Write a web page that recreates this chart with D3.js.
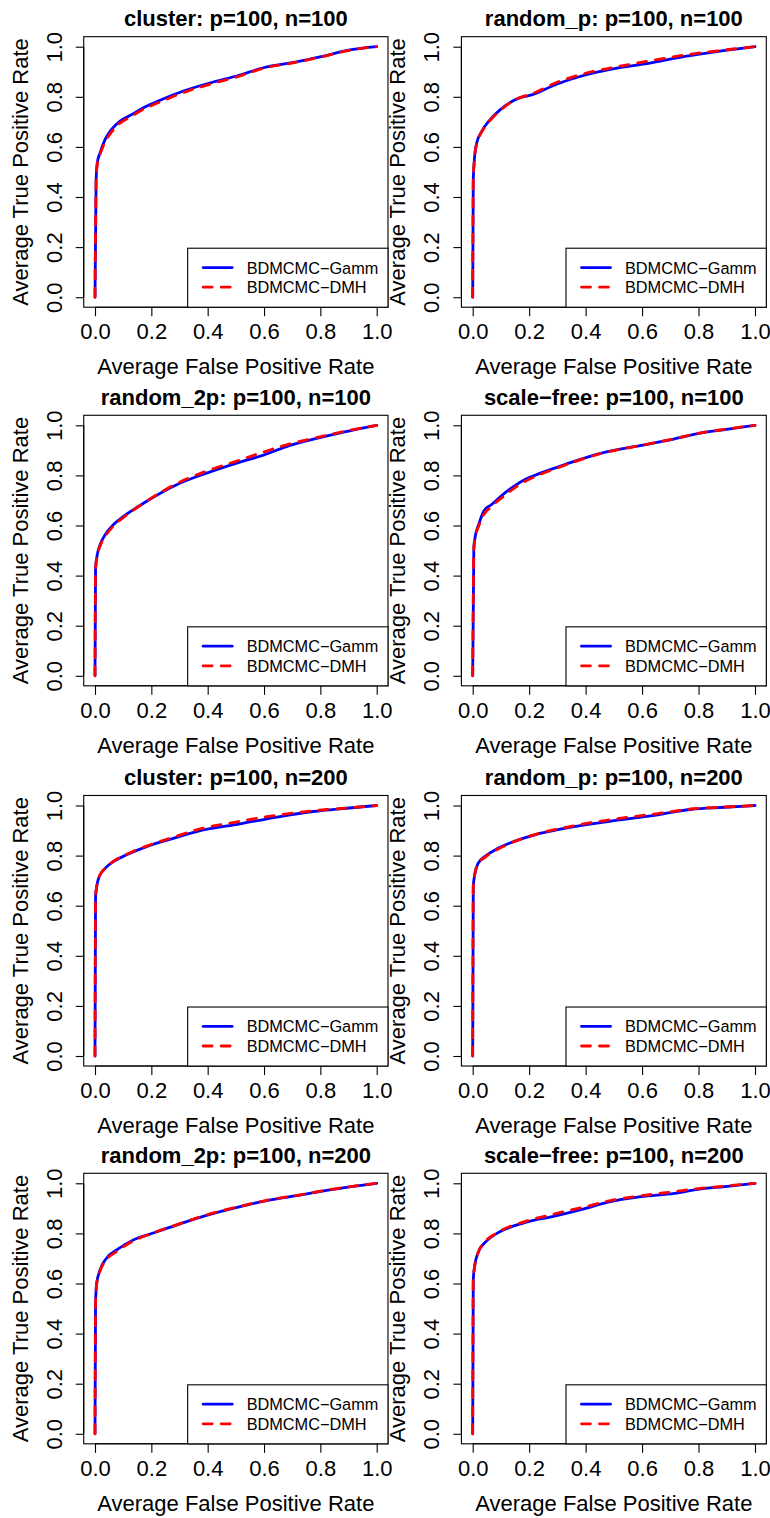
<!DOCTYPE html>
<html>
<head>
<meta charset="utf-8">
<script src="https://cdn.jsdelivr.net/npm/d3@7"></script>
<style>
  html, body { margin: 0; padding: 0; background: #fff; }
  svg { display: block; }
  text { font-family: "Liberation Sans", Arial, Helvetica, sans-serif; fill: #000; }
</style>
</head>
<body>
<svg id="chart" width="770" height="1518"></svg>
<script>
// ---------- data ----------
const titles = [
  "cluster: p=100, n=100", "random_p: p=100, n=100",
  "random_2p: p=100, n=100", "scale\u2212free: p=100, n=100",
  "cluster: p=100, n=200", "random_p: p=100, n=200",
  "random_2p: p=100, n=200", "scale\u2212free: p=100, n=200"
];
const seriesNames = ["BDMCMC\u2212Gamm", "BDMCMC\u2212DMH"];
const tickValues = [0, 0.2, 0.4, 0.6, 0.8, 1.0];
const tickLabels = ["0.0", "0.2", "0.4", "0.6", "0.8", "1.0"];
const xLabel = "Average False Positive Rate";
const yLabel = "Average True Positive Rate";

// panel 1: cluster n=100
const p1_fpr  = [0, .004, .008, .018, .036, .059, .089, .124, .172, .237, .314, .42, .503, .598, .716, .799, .905, 1];
const p1_gamm = [0, .47, .536, .576, .63, .67, .703, .725, .756, .789, .823, .859, .883, .916, .939, .959, .987, 1];
const p1_dmh  = [0, .47, .53, .57, .62, .66, .695, .718, .75, .782, .817, .854, .879, .914, .938, .958, .986, 1];
// panel 2: random_p n=100
const p2_fpr  = [0, .002, .006, .014, .032, .061, .097, .15, .221, .292, .374, .516, .61, .752, .87, 1];
const p2_gamm = [0, .469, .549, .615, .662, .708, .748, .788, .812, .848, .879, .915, .931, .961, .981, 1];
const p2_dmh  = [0, .469, .549, .612, .66, .705, .745, .788, .817, .855, .886, .921, .94, .967, .984, 1];
// panel 3: random_2p n=100
const p3_fpr  = [0, .002, .008, .018, .036, .065, .101, .154, .201, .29, .396, .503, .598, .692, .775, .882, 1];
const p3_gamm = [0, .429, .483, .523, .563, .603, .636, .676, .709, .763, .809, .849, .881, .92, .945, .973, 1];
const p3_dmh  = [0, .429, .48, .518, .556, .597, .632, .675, .71, .767, .817, .857, .893, .926, .948, .975, 1];
// panel 4: scale-free n=100
const p4_fpr  = [0, .004, .009, .021, .04, .066, .113, .184, .231, .29, .349, .456, .597, .704, .798, .893, 1];
const p4_gamm = [0, .509, .556, .603, .659, .683, .729, .783, .805, .829, .852, .889, .92, .943, .967, .983, 1];
const p4_dmh  = [0, .509, .553, .597, .645, .675, .72, .775, .8, .826, .85, .888, .92, .944, .968, .984, 1];
// panel 5: cluster n=200
const p5_fpr  = [0, .002, .006, .015, .036, .065, .112, .183, .266, .361, .515, .657, .775, .893, 1];
const p5_gamm = [0, .636, .676, .716, .749, .776, .803, .836, .865, .896, .927, .956, .976, .989, 1];
const p5_dmh  = [0, .636, .676, .716, .749, .777, .805, .838, .869, .903, .937, .963, .979, .99, 1];
// panel 6: random_p n=200
const p6_fpr  = [0, .002, .007, .019, .043, .09, .125, .22, .326, .479, .656, .775, .893, 1];
const p6_gamm = [0, .676, .723, .769, .796, .829, .847, .883, .909, .936, .963, .985, .993, 1];
const p6_dmh  = [0, .676, .723, .767, .793, .826, .845, .884, .912, .942, .968, .986, .994, 1];
// panel 7: random_2p n=200
const p7_fpr  = [0, .002, .006, .018, .041, .077, .136, .195, .302, .396, .515, .609, .728, .846, 1];
const p7_gamm = [0, .521, .601, .654, .701, .734, .774, .797, .838, .872, .907, .931, .953, .976, 1];
const p7_dmh  = [0, .521, .6, .65, .695, .728, .77, .797, .839, .874, .908, .932, .954, .977, 1];
// panel 8: scale-free n=200
const p8_fpr  = [0, .002, .007, .019, .043, .09, .184, .29, .397, .479, .597, .715, .798, .893, 1];
const p8_gamm = [0, .616, .669, .723, .763, .803, .843, .869, .899, .925, .947, .96, .976, .987, 1];
const p8_dmh  = [0, .616, .669, .723, .765, .805, .847, .878, .906, .929, .95, .967, .979, .989, 1];

const panelData = [
  [p1_fpr, p1_gamm, p1_dmh], [p2_fpr, p2_gamm, p2_dmh],
  [p3_fpr, p3_gamm, p3_dmh], [p4_fpr, p4_gamm, p4_dmh],
  [p5_fpr, p5_gamm, p5_dmh], [p6_fpr, p6_gamm, p6_dmh],
  [p7_fpr, p7_gamm, p7_dmh], [p8_fpr, p8_gamm, p8_dmh]
];

// ---------- layout ----------
const colX = [[95, 376.7], [472.7, 755]];      // pixel of x=0 and x=1
const rowY1 = [46.7, 425.3, 805.5, 1183.3];    // pixel of y=1
const ySpan = 250.5;
const colors = ["#0000ff", "#ff0000"];

const svg = d3.select("#chart");
svg.append("rect").attr("width", 770).attr("height", 1518).attr("fill", "#fff");

panelData.forEach((pd, i) => {
  const col = i % 2, row = Math.floor(i / 2);
  const x = d3.scaleLinear().domain([0, 1]).range(colX[col]);
  const y = d3.scaleLinear().domain([0, 1]).range([rowY1[row] + ySpan, rowY1[row]]);
  const dx = (colX[col][1] - colX[col][0]) * 0.04;
  const dy = ySpan * 0.04;
  const boxL = x(0) - dx, boxR = x(1) + dx, boxT = y(1) - dy, boxB = y(0) + dy;
  const g = svg.append("g");

  // series
  const [fpr, gamm, dmh] = pd;
  [gamm, dmh].forEach((tpr, s) => {
    const pts = fpr.map((f, k) => [f, tpr[k]]);
    const line = d3.line().x(d => x(d[0])).y(d => y(d[1])).curve(d3.curveMonotoneX);
    g.append("path").attr("d", line(pts))
      .attr("fill", "none").attr("stroke", colors[s])
      .attr("stroke-width", 2.8)
      .attr("stroke-linecap", "round").attr("stroke-linejoin", "round")
      .attr("stroke-dasharray", s === 1 ? "9,9" : null);
  });

  // box
  g.append("rect").attr("x", boxL).attr("y", boxT)
    .attr("width", boxR - boxL).attr("height", boxB - boxT)
    .attr("fill", "none").attr("stroke", "#000").attr("stroke-width", 1.1);

  // x axis
  const xAxis = d3.axisBottom(x).tickValues(tickValues)
    .tickFormat((d, k) => tickLabels[k]).tickSize(9).tickPadding(0);
  const xa = g.append("g").attr("transform", `translate(0,${boxB})`).call(xAxis);
  xa.select(".domain").attr("d", `M${x(0)},0H${x(1)}`).attr("stroke", "#000").attr("stroke-width", 1.1);
  xa.selectAll(".tick line").attr("stroke", "#000").attr("stroke-width", 1.1);
  xa.selectAll(".tick text").attr("y", 32).attr("dy", null)
    .attr("font-size", 22).attr("font-family", "'Liberation Sans', Arial, sans-serif");

  // y axis
  const yAxis = d3.axisLeft(y).tickValues(tickValues)
    .tickFormat((d, k) => tickLabels[k]).tickSize(8).tickPadding(0);
  const ya = g.append("g").attr("transform", `translate(${boxL},0)`).call(yAxis);
  ya.select(".domain").attr("d", `M0,${y(0)}V${y(1)}`).attr("stroke", "#000").attr("stroke-width", 1.1);
  ya.selectAll(".tick line").attr("stroke", "#000").attr("stroke-width", 1.1);
  ya.selectAll(".tick text")
    .attr("x", null).attr("dy", null)
    .attr("transform", "translate(-22,0) rotate(-90)")
    .attr("text-anchor", "middle")
    .attr("font-size", 22).attr("font-family", "'Liberation Sans', Arial, sans-serif");

  // labels
  g.append("text").attr("x", (x(0) + x(1)) / 2).attr("y", boxB + 67)
    .attr("text-anchor", "middle").attr("font-size", 22).text(xLabel);
  g.append("text")
    .attr("transform", `translate(${boxL - 56.2},${(y(0) + y(1)) / 2}) rotate(-90)`)
    .attr("text-anchor", "middle").attr("font-size", 22).text(yLabel);
  g.append("text").attr("x", (boxL + boxR) / 2).attr("y", boxT - 10.5)
    .attr("text-anchor", "middle").attr("font-size", 22).attr("font-weight", "bold")
    .text(titles[i]);

  // legend
  const lgL = boxR - 200.3, lgT = boxB - 59;
  const lg = g.append("g");
  lg.append("rect").attr("x", lgL).attr("y", lgT).attr("width", boxR - lgL).attr("height", boxB - lgT)
    .attr("fill", "#fff").attr("stroke", "#000").attr("stroke-width", 1.1);
  seriesNames.forEach((name, s) => {
    const ly = lgT + 19.4 + s * 19.6;
    lg.append("line").attr("x1", lgL + 15.5).attr("x2", lgL + 44.5).attr("y1", ly).attr("y2", ly)
      .attr("stroke", colors[s]).attr("stroke-width", 2.8).attr("stroke-linecap", "round")
      .attr("stroke-dasharray", s === 1 ? "9,9" : null);
    lg.append("text").attr("x", lgL + 59).attr("y", ly + 6)
      .attr("font-size", 16.3).text(name);
  });
});
</script>
</body>
</html>
